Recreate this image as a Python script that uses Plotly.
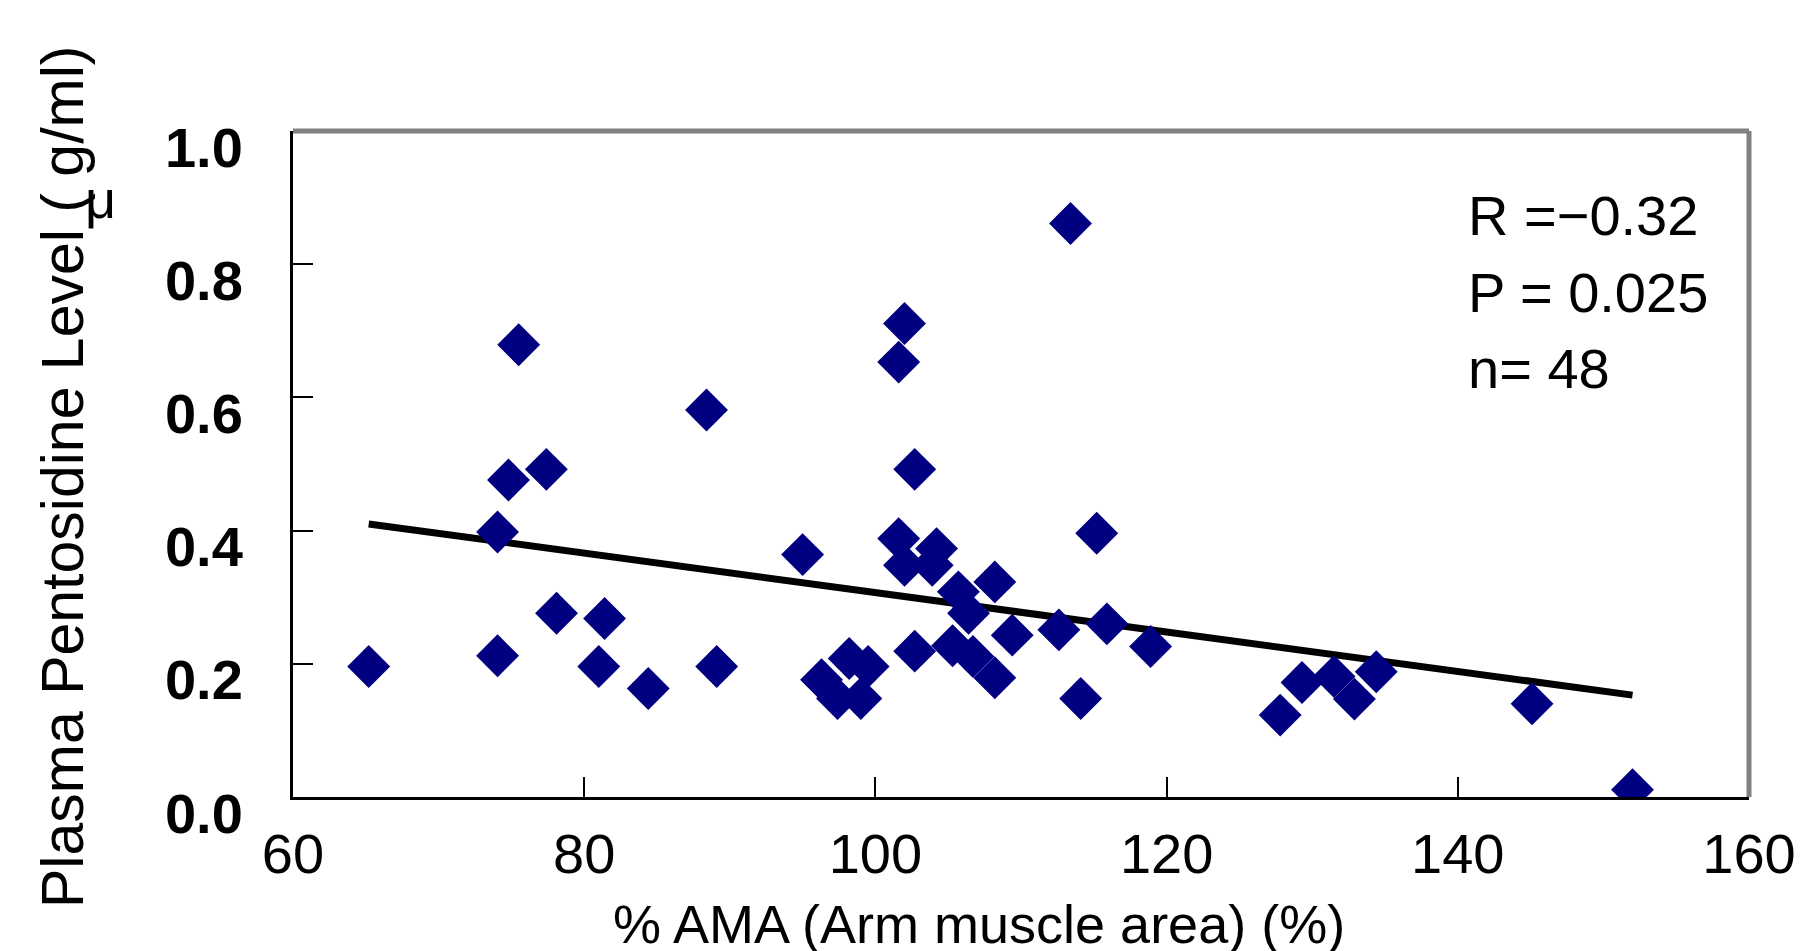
import plotly.graph_objects as go

# Data
ama_pct = [65.2, 74.05, 74.05, 74.8, 75.5, 77.4, 78.1, 81.0, 81.4, 84.4,
           88.4, 89.1, 95.0, 96.3, 97.4, 98.2, 99.0, 99.5, 101.6, 102.0,
           101.6, 102.0, 102.7, 102.7, 103.9, 104.2, 105.7, 106.4, 105.3, 106.7,
           108.2, 108.2, 109.4, 112.6, 113.4, 114.1, 115.2, 115.9, 118.9, 127.8,
           129.3, 131.5, 132.9, 134.4, 145.1, 152.0]
pentosidine = [0.196, 0.212, 0.398, 0.476, 0.679, 0.492, 0.276, 0.196, 0.268, 0.163,
               0.581, 0.196, 0.364, 0.176, 0.148, 0.208, 0.148, 0.196, 0.388, 0.348,
               0.653, 0.711, 0.492, 0.219, 0.348, 0.373, 0.308, 0.276, 0.227, 0.211,
               0.323, 0.179, 0.243, 0.251, 0.861, 0.148, 0.396, 0.260, 0.226, 0.123,
               0.172, 0.181, 0.147, 0.188, 0.140, 0.011]
trend_x = [65.2, 152.0]
trend_y = [0.410, 0.153]
x_ticks = [60, 80, 100, 120, 140, 160]
y_ticks = [0.0, 0.2, 0.4, 0.6, 0.8, 1.0]
stats_lines = ["R =\u22120.32", "P = 0.025", "n= 48"]

FONT = "Liberation Sans, Arial, sans-serif"

# page body has an 8px default offset; plot area targets full-image pixels
L, T, W, H = 293 - 8, 131 - 8, 1456, 666

fig = go.Figure()
fig.add_trace(go.Scatter(
    x=trend_x, y=trend_y, mode="lines",
    line=dict(color="black", width=7), showlegend=False, hoverinfo="skip"))
fig.add_trace(go.Scatter(
    x=ama_pct, y=pentosidine, mode="markers",
    marker=dict(symbol="diamond", size=33, color="#000080", line=dict(width=0)),
    showlegend=False))

fig.update_layout(
    width=1802, height=951,
    margin=dict(l=L, r=1802 - L - W, t=T, b=951 - T - H),
    paper_bgcolor="white", plot_bgcolor="white",
    font=dict(family=FONT, color="black", size=56),
    xaxis=dict(range=[60, 160], tickmode="array", tickvals=x_ticks,
               ticktext=[str(v) for v in x_ticks],
               ticks="inside", ticklen=20, tickwidth=2, tickcolor="black",
               showline=True, linecolor="black", linewidth=3,
               showgrid=False, zeroline=False, automargin=False,
               tickfont=dict(size=56, family=FONT), ticklabelstandoff=6),
    yaxis=dict(range=[0, 1.0], tickmode="array", tickvals=y_ticks,
               ticktext=["<b>%.1f</b>" % v for v in y_ticks],
               ticks="inside", ticklen=20, tickwidth=2, tickcolor="black",
               showline=True, linecolor="black", linewidth=3,
               showgrid=False, zeroline=False, automargin=False,
               tickfont=dict(size=56, family=FONT), ticklabelstandoff=36,
               ticklabelshift=16),
    shapes=[
        dict(type="line", xref="paper", yref="paper", x0=0, x1=1, y0=1, y1=1,
             line=dict(color="#808080", width=5)),
        dict(type="line", xref="paper", yref="paper", x0=1, x1=1, y0=0, y1=1,
             line=dict(color="#808080", width=5)),
    ],
)

def px(xf):
    return (xf - 293) / W

def py(yf):
    return (797 - yf) / H

annotations = []
for i, line in enumerate(stats_lines):
    annotations.append(dict(
        xref="paper", yref="paper", x=px(1466), y=py(216 + 76 * i),
        text=line, showarrow=False, xanchor="left", yanchor="middle",
        font=dict(size=56, family=FONT, color="black")))
# x-axis title
annotations.append(dict(
    xref="paper", yref="paper", x=px(979), y=py(924),
    text="% AMA (Arm muscle area) (%)", showarrow=False,
    xanchor="center", yanchor="middle",
    font=dict(size=54, family=FONT, color="black")))
# y-axis title (the μ is set apart, upright, as in the original)
annotations.append(dict(
    xref="paper", yref="paper", x=px(63), y=py(477),
    text="Plasma Pentosidine Level ( g/ml)", showarrow=False, textangle=-90,
    xanchor="center", yanchor="middle",
    font=dict(size=59, family=FONT, color="black")))
annotations.append(dict(
    xref="paper", yref="paper", x=px(100), y=py(199),
    text="\u03bc", showarrow=False, xanchor="center", yanchor="middle",
    font=dict(size=54, family=FONT, color="black")))
fig.update_layout(annotations=annotations)

fig.write_html("out.html")
